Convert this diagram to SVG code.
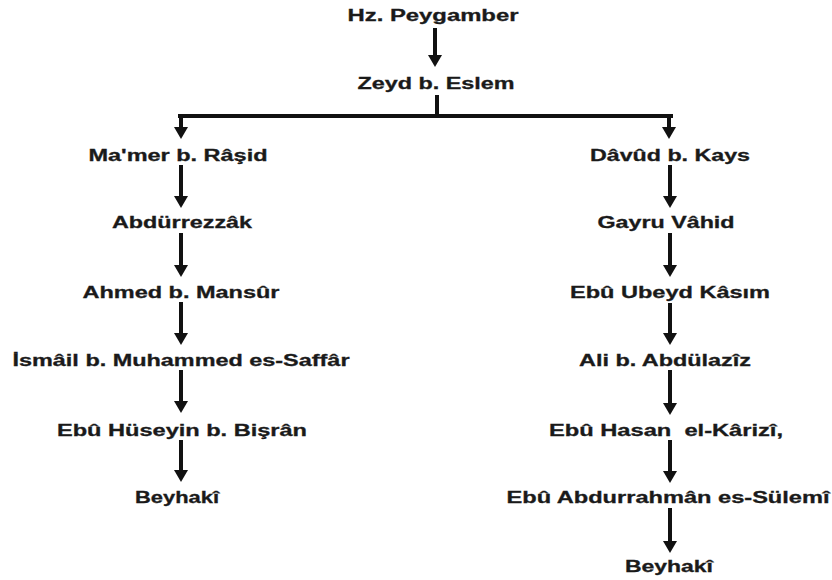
<svg xmlns="http://www.w3.org/2000/svg" width="832" height="580" viewBox="0 0 832 580">
<style>
text{font-family:"Liberation Sans",Arial,sans-serif;font-weight:bold;font-size:16px;fill:#1a1a1a;stroke:#1a1a1a;stroke-width:0.3;text-anchor:middle;white-space:pre}
.c{stroke:#111;stroke-width:4;fill:none}
.a{stroke:#111;stroke-width:4;fill:none;marker-end:url(#ah)}
</style>
<defs>
<marker id="ah" viewBox="0 0 12 14" markerWidth="12" markerHeight="14" refX="5" refY="7" orient="auto" markerUnits="userSpaceOnUse">
<path d="M0,0 L12,7 L0,14 z" fill="#111"/>
</marker>
</defs>
<rect width="832" height="580" fill="#fff"/>
<g id="connectors">
<path class="a" d="M435,28 V60"/>
<path class="c" d="M437,95 V116 M178,116 H673 M181,114 V131"/>
<path class="c" d="M669,114 V131"/>
<path class="a" d="M181,131 V132"/>
<path class="a" d="M669,131 V132"/>
<path class="a" d="M181,165 V201"/>
<path class="a" d="M181,233 V270"/>
<path class="a" d="M181,302 V338"/>
<path class="a" d="M181,370 V406"/>
<path class="a" d="M181,440 V475"/>
<path class="a" d="M670,165 V201"/>
<path class="a" d="M670,233 V270"/>
<path class="a" d="M670,303 V338"/>
<path class="a" d="M670,370 V408"/>
<path class="a" d="M670,440 V476"/>
<path class="a" d="M670,508 V546"/>
</g>
<g id="n-peygamber"><text x="433" y="21" textLength="171" lengthAdjust="spacingAndGlyphs">Hz. Peygamber</text></g>
<g id="n-zeyd"><text x="436" y="89" textLength="157" lengthAdjust="spacingAndGlyphs">Zeyd b. Eslem</text></g>
<g id="n-mamer"><text x="178" y="161" textLength="179" lengthAdjust="spacingAndGlyphs">Ma'mer b. Râşid</text></g>
<g id="n-abdurrezzak"><text x="182" y="228" textLength="140" lengthAdjust="spacingAndGlyphs">Abdürrezzâk</text></g>
<g id="n-ahmed"><text x="181" y="298" textLength="197" lengthAdjust="spacingAndGlyphs">Ahmed b. Mansûr</text></g>
<g id="n-ismail"><text x="181" y="366" textLength="337" lengthAdjust="spacingAndGlyphs">İsmâil b. Muhammed es-Saffâr</text></g>
<g id="n-ebuhuseyin"><text x="182" y="436" textLength="250" lengthAdjust="spacingAndGlyphs">Ebû Hüseyin b. Bişrân</text></g>
<g id="n-beyhaki-l"><text x="177" y="503" textLength="84" lengthAdjust="spacingAndGlyphs">Beyhakî</text></g>
<g id="n-davud"><text x="670" y="161" textLength="160" lengthAdjust="spacingAndGlyphs">Dâvûd b. Kays</text></g>
<g id="n-gayru"><text x="666" y="228" textLength="137" lengthAdjust="spacingAndGlyphs">Gayru Vâhid</text></g>
<g id="n-ebuubeyd"><text x="670" y="298" textLength="200" lengthAdjust="spacingAndGlyphs">Ebû Ubeyd Kâsım</text></g>
<g id="n-ali"><text x="665" y="366" textLength="172" lengthAdjust="spacingAndGlyphs">Ali b. Abdülazîz</text></g>
<g id="n-ebuhasan"><text x="666" y="436" textLength="234" lengthAdjust="spacingAndGlyphs">Ebû Hasan  el-Kârizî,</text></g>
<g id="n-sulemi"><text x="668" y="503" textLength="323" lengthAdjust="spacingAndGlyphs">Ebû Abdurrahmân es-Sülemî</text></g>
<g id="n-beyhaki-r"><text x="669" y="572" textLength="88" lengthAdjust="spacingAndGlyphs">Beyhakî</text></g>
</svg>
